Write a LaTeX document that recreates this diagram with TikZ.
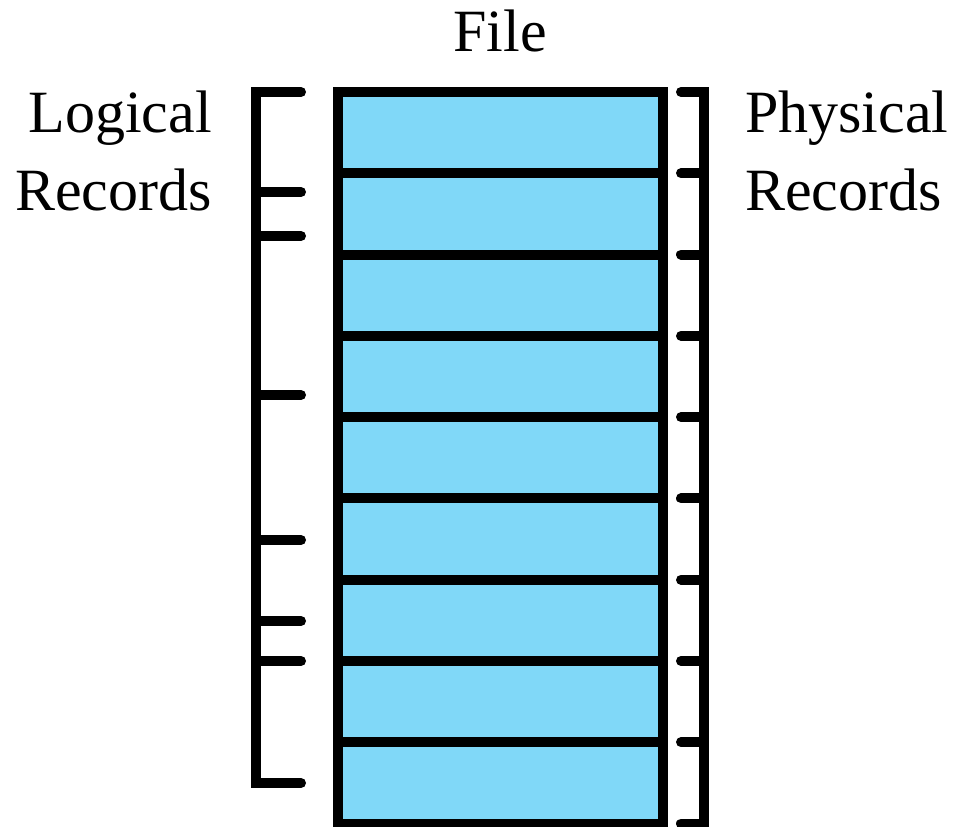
\documentclass[tikz,border=0pt]{standalone}
\usepackage{fontspec}
\setmainfont{Liberation Serif}
\definecolor{recfill}{RGB}{128,216,248}
\begin{document}
\begin{tikzpicture}[x=1pt,y=-1pt,
  rec/.style={draw=black, fill=recfill, line width=10pt, minimum width=325.5pt,
    minimum height=81.28pt, inner sep=0pt, outer sep=0pt, anchor=north west},
  brace/.style={line width=10pt, line cap=round, line join=miter},
  lbl/.style={font=\fontsize{60}{77.7}\selectfont, inner sep=0pt}]
\useasboundingbox (0,0) rectangle (956,827);

% the file: nine stacked records
\foreach \i in {1,...,9}
  \node[rec] (r\i) at (337.5,{92+(\i-1)*81.28}) {};

% labels (base anchor sits on the last line's baseline)
\node[lbl, anchor=base] (file) at (500,51.7) {File};
\node[lbl, anchor=base east, align=right] (logical) at (212,210) {Logical\\Records};
\node[lbl, anchor=base west, align=left] (physical) at (745,210) {Physical\\Records};

% logical record bracket
\coordinate (lt) at (256,92);
\coordinate (lb) at (256,783);
\draw[brace] ([xshift=45pt]lt) -- (lt) -- (lb) -- ([xshift=45pt]lb);
\foreach \y in {192,236,395,540,621,661}
  \draw[brace] (256,\y) -- (301,\y);

% physical record bracket
\coordinate (pt) at (703.5,92);
\coordinate (pb) at (703.5,823.5);
\draw[brace] ([xshift=-22.5pt]pt) -- (pt) -- (pb) -- ([xshift=-22.5pt]pb);
\foreach \i in {2,...,9}
  \draw[brace] (r\i.north west -| pt) -- ([xshift=-22.5pt]r\i.north west -| pt);
\end{tikzpicture}
\end{document}
